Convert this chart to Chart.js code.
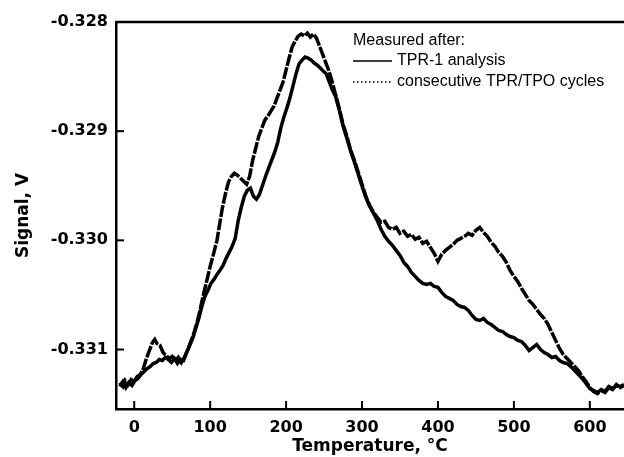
<!DOCTYPE html>
<html>
<head>
<meta charset="utf-8">
<script src="https://cdn.jsdelivr.net/npm/chart.js@4"></script>
<style>
  body { margin: 0; background: #fff; }
  #wrap { width: 624px; height: 457px; }
</style>
</head>
<body>
<div id="wrap"><canvas id="tprChart" width="624" height="457"></canvas></div>
<script>
// ticks
const xTicks = [0, 100, 200, 300, 400, 500, 600];
const yTicks = [-0.331, -0.330, -0.329, -0.328];

// TPR-1 analysis (solid line)
const tempTpr1 = [-19, -15, -11, -7, -3, 1, 5, 9, 13, 17, 21, 25, 29, 33, 37, 41, 45, 49, 53, 57, 61, 65, 69, 73, 77, 81, 85, 89, 93, 97,
  101, 105, 109, 113, 117, 121, 125, 129, 133, 137, 141, 145, 149, 153, 157, 161, 165, 169, 173, 177, 181, 185, 189, 193, 197,
  201, 205, 209, 213, 217, 221, 225, 229, 233, 237, 241, 245, 249, 253, 257, 261, 265, 270, 275, 280, 285, 290, 295, 300,
  305, 310, 315, 320, 325, 330, 335, 340, 345, 350, 355, 360, 365, 370, 375, 380, 385, 390, 395, 400, 405, 410, 415, 420,
  425, 430, 435, 440, 445, 450, 455, 460, 465, 470, 475, 480, 485, 490, 495, 500, 505, 510, 515, 520, 525, 530, 535, 540,
  545, 550, 555, 560, 565, 570, 575, 580, 585, 590, 595, 600, 605, 610, 615, 620, 625, 630, 635, 640, 645];
const signalTpr1 = [-0.331339, -0.331294, -0.331349, -0.331303, -0.331330, -0.331284, -0.331266, -0.331229, -0.331202, -0.331174,
  -0.331156, -0.331128, -0.331119, -0.331092, -0.331101, -0.331073, -0.331092, -0.331119, -0.331083, -0.331128, -0.331092,
  -0.331101, -0.331028, -0.330963, -0.330899, -0.330807, -0.330716, -0.330606, -0.330514, -0.330459,
  -0.330394, -0.330358, -0.330312, -0.330275, -0.330229, -0.330165, -0.330110, -0.330055, -0.329982, -0.329817, -0.329697,
  -0.329596, -0.329541, -0.329523, -0.329596, -0.329624, -0.329578, -0.329495, -0.329413, -0.329339, -0.329266, -0.329193,
  -0.329101, -0.328972, -0.328872, -0.328789, -0.328697, -0.328587, -0.328477, -0.328385, -0.328349, -0.328321, -0.328330,
  -0.328349, -0.328376, -0.328394, -0.328422, -0.328450, -0.328477, -0.328550, -0.328624, -0.328679, -0.328807, -0.328954,
  -0.329064, -0.329183, -0.329284, -0.329394, -0.329505, -0.329606, -0.329688, -0.329752, -0.329817, -0.329899, -0.329963,
  -0.330009, -0.330046, -0.330092, -0.330138, -0.330202, -0.330239, -0.330294, -0.330330, -0.330367, -0.330394, -0.330404,
  -0.330394, -0.330422, -0.330431, -0.330477, -0.330514, -0.330532, -0.330550, -0.330587, -0.330606, -0.330615, -0.330642,
  -0.330688, -0.330725, -0.330734, -0.330716, -0.330752, -0.330771, -0.330798, -0.330826, -0.330835, -0.330862, -0.330881,
  -0.330890, -0.330917, -0.330927, -0.330963, -0.331009, -0.330982, -0.330954, -0.331000, -0.331028, -0.331046, -0.331073,
  -0.331064, -0.331101, -0.331119, -0.331128, -0.331156, -0.331193, -0.331229, -0.331266, -0.331312, -0.331358, -0.331376,
  -0.331394, -0.331367, -0.331385, -0.331339, -0.331358, -0.331330, -0.331339, -0.331321];

// consecutive TPR/TPO cycles (dotted line)
const tempCycles = [-19, -15, -12, -8, -4, 0, 4, 8, 12, 16, 20, 24, 27, 30, 34, 38, 42, 46, 50, 54, 58, 62, 66, 70, 74, 78, 82, 86, 90, 95,
  100, 105, 109, 112, 116, 120, 124, 128, 132, 136, 140, 144, 148, 152, 156, 160, 164, 168, 172, 176, 180, 184, 188, 192, 196,
  200, 204, 208, 212, 216, 220, 224, 228, 232, 236, 240, 244, 248, 252, 256, 260, 265, 270, 275, 280, 285, 290, 295, 300,
  305, 310, 315, 320, 325, 330, 335, 340, 345, 350, 355, 360, 365, 370, 375, 380, 385, 390, 395, 400, 405, 410, 415, 420,
  425, 430, 435, 440, 445, 450, 455, 460, 465, 470, 475, 480, 485, 490, 495, 500, 505, 510, 515, 520, 525, 530, 535, 540,
  545, 550, 555, 560, 565, 570, 575, 580, 585, 590, 595, 600, 605, 610, 615, 620, 625, 630, 635, 640, 645];
const signalCycles = [-0.331303, -0.331339, -0.331284, -0.331321, -0.331275, -0.331294, -0.331248, -0.331229, -0.331174, -0.331083,
  -0.331009, -0.330936, -0.330908, -0.330945, -0.330963, -0.331028, -0.331055, -0.331083, -0.331064, -0.331110, -0.331073,
  -0.331119, -0.331073, -0.331009, -0.330936, -0.330862, -0.330771, -0.330661, -0.330532, -0.330385,
  -0.330239, -0.330110, -0.330000, -0.329872, -0.329706, -0.329578, -0.329468, -0.329413, -0.329385, -0.329404, -0.329431,
  -0.329459, -0.329486, -0.329413, -0.329266, -0.329156, -0.329046, -0.328972, -0.328899, -0.328862, -0.328817, -0.328771,
  -0.328697, -0.328624, -0.328550, -0.328440, -0.328330, -0.328229, -0.328174, -0.328128, -0.328110, -0.328128, -0.328101,
  -0.328138, -0.328110, -0.328147, -0.328220, -0.328294, -0.328367, -0.328440, -0.328532, -0.328661, -0.328789, -0.328936,
  -0.329046, -0.329174, -0.329266, -0.329376, -0.329486, -0.329596, -0.329679, -0.329743, -0.329789, -0.329835, -0.329826,
  -0.329881, -0.329899, -0.329881, -0.329936, -0.329917, -0.329963, -0.329945, -0.329991, -0.329972, -0.330028, -0.330009,
  -0.330064, -0.330119, -0.330193, -0.330128, -0.330092, -0.330064, -0.330037, -0.330000, -0.329982, -0.329963, -0.329936,
  -0.329954, -0.329908, -0.329881, -0.329927, -0.329963, -0.330018, -0.330055, -0.330110, -0.330147, -0.330202, -0.330275,
  -0.330330, -0.330376, -0.330440, -0.330495, -0.330550, -0.330587, -0.330633, -0.330679, -0.330716, -0.330771, -0.330844,
  -0.330917, -0.330991, -0.331046, -0.331083, -0.331119, -0.331156, -0.331193, -0.331248, -0.331294, -0.331349, -0.331385,
  -0.331404, -0.331376, -0.331394, -0.331349, -0.331367, -0.331321, -0.331349, -0.331330];

const legendTitle = 'Measured after:';

const toPoints = (xs, ys) => xs.map((x, i) => ({ x: x, y: ys[i] }));

// inward tick marks, top frame line and the legend box
const framePlugin = {
  id: 'frame',
  afterDraw(chart) {
    const { ctx, chartArea, scales } = chart;
    ctx.save();
    ctx.strokeStyle = '#000';
    ctx.lineWidth = 2.5;
    ctx.beginPath();
    ctx.moveTo(chartArea.left, chartArea.top);
    ctx.lineTo(chartArea.right, chartArea.top);
    ctx.stroke();

    ctx.lineWidth = 2;
    xTicks.forEach(v => {
      const px = scales.x.getPixelForValue(v);
      ctx.beginPath();
      ctx.moveTo(px, chartArea.bottom);
      ctx.lineTo(px, chartArea.bottom - 8);
      ctx.stroke();
    });
    yTicks.forEach(v => {
      const py = scales.y.getPixelForValue(v);
      ctx.beginPath();
      ctx.moveTo(chartArea.left, py);
      ctx.lineTo(chartArea.left + 8, py);
      ctx.stroke();
    });

    // legend
    const lx = 353;
    ctx.fillStyle = '#000';
    ctx.font = '16px "Liberation Sans", Arial, sans-serif';
    ctx.textBaseline = 'middle';
    ctx.textAlign = 'left';
    ctx.fillText(legendTitle, lx, 41);
    chart.data.datasets.forEach((ds, i) => {
      const ly = 61 + i * 21;
      ctx.lineWidth = 1.3;
      ctx.setLineDash(i === 0 ? [] : [1.5, 2.5]);
      ctx.beginPath();
      ctx.moveTo(lx, ly);
      ctx.lineTo(lx + 39, ly);
      ctx.stroke();
      ctx.setLineDash([]);
      ctx.fillText(ds.label, lx + 44, ly);
    });
    ctx.restore();
  }
};

const ctx = document.getElementById('tprChart').getContext('2d');
new Chart(ctx, {
  type: 'line',
  data: {
    datasets: [
      {
        label: 'TPR-1 analysis',
        data: toPoints(tempTpr1, signalTpr1),
        borderColor: '#000',
        borderWidth: 3.5,
        pointRadius: 0,
        tension: 0,
      },
      {
        label: 'consecutive TPR/TPO cycles',
        data: toPoints(tempCycles, signalCycles),
        borderColor: '#000',
        borderWidth: 3.5,
        borderDash: [12, 1.5],
        pointRadius: 0,
        tension: 0,
      },
    ],
  },
  options: {
    responsive: false,
    animation: false,
    layout: { padding: { top: 22, right: 0, left: 0, bottom: 0 } },
    plugins: {
      legend: { display: false },
      tooltip: { enabled: false },
    },
    scales: {
      x: {
        type: 'linear',
        min: -24,
        max: 645,
        afterBuildTicks: scale => { scale.ticks = xTicks.map(v => ({ value: v })); },
        afterFit: scale => { scale.height = 48; },
        grid: { display: false, drawTicks: false },
        border: { display: true, color: '#000', width: 2.5 },
        ticks: {
          color: '#000',
          padding: 9,
          maxRotation: 0,
          font: { family: '"DejaVu Sans"', size: 16, weight: 'bold' },
        },
        title: {
          display: true,
          text: 'Temperature, °C',
          color: '#000',
          padding: { top: 0, bottom: 0 },
          font: { family: '"DejaVu Sans"', size: 17, weight: 'bold' },
        },
      },
      y: {
        type: 'linear',
        min: -0.331545,
        max: -0.328,
        afterBuildTicks: scale => { scale.ticks = yTicks.map(v => ({ value: v })); },
        afterFit: scale => { scale.width = 116; },
        grid: { display: false, drawTicks: false },
        border: { display: true, color: '#000', width: 2.5 },
        ticks: {
          color: '#000',
          padding: 8,
          callback: v => v.toFixed(3),
          font: { family: '"DejaVu Sans"', size: 16, weight: 'bold' },
        },
        title: {
          display: true,
          text: 'Signal, V',
          color: '#000',
          padding: { top: 13, bottom: 0 },
          font: { family: '"DejaVu Sans"', size: 17, weight: 'bold' },
        },
      },
    },
  },
  plugins: [framePlugin],
});
</script>
</body>
</html>
